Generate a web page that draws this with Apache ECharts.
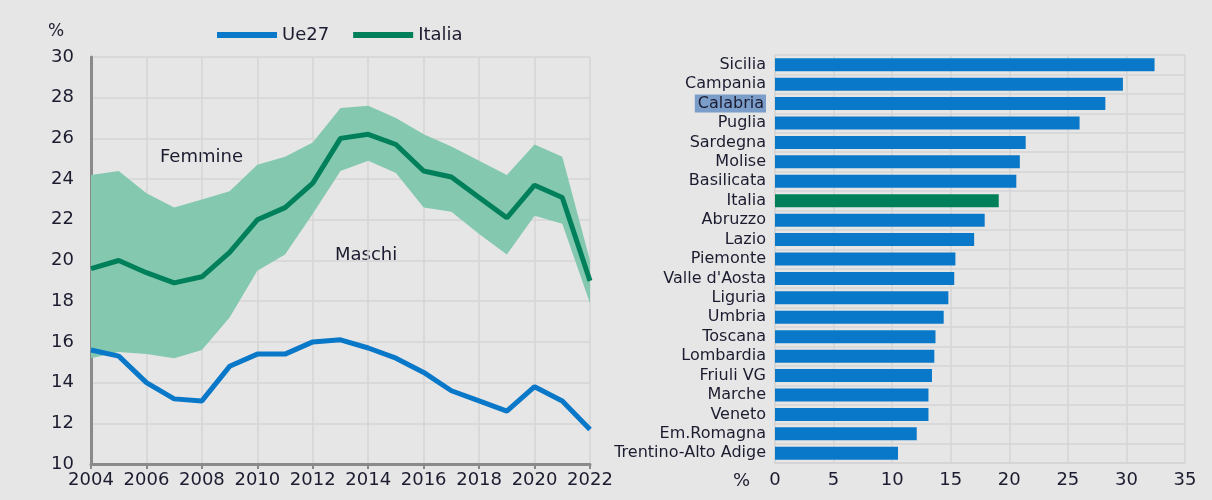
<!DOCTYPE html>
<html>
<head>
<meta charset="utf-8">
<script src="https://cdn.jsdelivr.net/npm/echarts@6/dist/echarts.min.js"></script>
<style>
  html, body { margin: 0; padding: 0; background: #e6e6e6; }
  #chart { width: 1212px; height: 500px; }
</style>
</head>
<body>
<div id="chart"></div>
<script>
// anni asse x (grafico a sinistra)
const years = ["2004", "2005", "2006", "2007", "2008", "2009", "2010", "2011", "2012", "2013",
  "2014", "2015", "2016", "2017", "2018", "2019", "2020", "2021", "2022"];
const ue27 = [15.6, 15.3, 14.0, 13.2, 13.1, 14.8, 15.4, 15.4, 16.0, 16.1,
  15.7, 15.2, 14.5, 13.6, 13.1, 12.6, 13.8, 13.1, 11.7];
const italia = [19.6, 20.0, 19.4, 18.9, 19.2, 20.4, 22.0, 22.6, 23.8, 26.0,
  26.2, 25.7, 24.4, 24.1, 23.1, 22.1, 23.7, 23.1, 19.0];
// banda: femmine (bordo superiore), maschi (bordo inferiore)
const femmine = [24.2, 24.4, 23.3, 22.6, 23.0, 23.4, 24.7, 25.1, 25.8, 27.5,
  27.6, 27.0, 26.2, 25.6, 24.9, 24.2, 25.7, 25.1, 20.0];
const maschi = [15.2, 15.5, 15.4, 15.2, 15.6, 17.2, 19.5, 20.3, 22.3, 24.4,
  24.9, 24.3, 22.6, 22.4, 21.3, 20.3, 22.2, 21.8, 17.9];

// regioni (grafico a destra)
const regioni = ["Sicilia", "Campania", "Calabria", "Puglia", "Sardegna", "Molise", "Basilicata",
  "Italia", "Abruzzo", "Lazio", "Piemonte", "Valle d'Aosta", "Liguria", "Umbria", "Toscana",
  "Lombardia", "Friuli VG", "Marche", "Veneto", "Em.Romagna", "Trentino-Alto Adige"];
const valoriRegioni = [32.4, 29.7, 28.2, 26.0, 21.4, 20.9, 20.6, 19.1, 17.9, 17.0, 15.4,
  15.3, 14.8, 14.4, 13.7, 13.6, 13.4, 13.1, 13.1, 12.1, 10.5];

const BLUE = "#0a78c8";
const GREEN = "#00805a";
const TXT = "#1c1c30";
const GRID = "#d4d4d4";
const FONT = "'DejaVu Sans', sans-serif";

const bandDiff = femmine.map((v, i) => +(v - maschi[i]).toFixed(2));

const chart = echarts.init(document.getElementById("chart"));
const option = {
  backgroundColor: "#e6e6e6",
  animation: false,
  textStyle: { fontFamily: FONT },
  legend: {
    data: ["Ue27", "Italia"],
    left: 212, top: 21,
    icon: "rect", itemWidth: 60, itemHeight: 6, itemGap: 24,
    textStyle: { fontSize: 18, color: TXT, fontFamily: FONT }
  },
  graphic: [
    { type: "text", left: 48, top: 23, style: { text: "%", font: "17px " + FONT, fill: TXT } },
    { type: "text", left: 160, top: 148, style: { text: "Femmine", font: "18px " + FONT, fill: TXT } },
    { type: "text", left: 335, top: 246, style: { text: "Maschi", font: "18px " + FONT, fill: TXT } },
    { type: "text", left: 733, top: 472, style: { text: "%", font: "18px " + FONT, fill: TXT } }
  ],
  grid: [
    { left: 91, right: 622, top: 57, height: 407 },
    { left: 775, right: 27, top: 55, height: 408 }
  ],
  xAxis: [
    {
      gridIndex: 0, type: "category", data: years, boundaryGap: false,
      axisLine: { lineStyle: { color: "#8a8a8a", width: 3 } },
      axisTick: { show: true, interval: 1, length: 5, lineStyle: { color: "#8a8a8a", width: 2 } },
      axisLabel: { interval: 1, fontSize: 18, color: TXT, margin: 7 },
      splitLine: { show: true, interval: 1, lineStyle: { color: GRID, width: 1.5 } }
    },
    {
      gridIndex: 1, type: "value", min: 0, max: 35, interval: 5,
      axisLine: { show: true, lineStyle: { color: GRID, width: 1.5 } },
      axisTick: { show: false },
      axisLabel: { fontSize: 18, color: TXT, margin: 8 },
      splitLine: { show: true, lineStyle: { color: GRID, width: 1.5 } }
    }
  ],
  yAxis: [
    {
      gridIndex: 0, type: "value", min: 10, max: 30, interval: 2,
      axisLine: { show: true, lineStyle: { color: "#8a8a8a", width: 3 } },
      axisTick: { show: false },
      axisLabel: { fontSize: 18, color: TXT, margin: 17 },
      splitLine: { show: true, lineStyle: { color: GRID, width: 1.5 } }
    },
    {
      gridIndex: 1, type: "category", data: regioni, inverse: true,
      axisLine: { show: true, lineStyle: { color: GRID, width: 1.5 } },
      axisTick: { show: false },
      axisLabel: {
        interval: 0, fontSize: 16, color: TXT, margin: 9,
        formatter: v => v === "Calabria" ? "{hl|" + v + "}" : v,
        rich: { hl: { backgroundColor: "#7b9dca", fontSize: 16, color: TXT, padding: [1, 2, 1, 3] } }
      },
      splitLine: { show: true, interval: 0, lineStyle: { color: GRID, width: 1.5 } }
    }
  ],
  series: [
    {
      name: "maschi", type: "line", xAxisIndex: 0, yAxisIndex: 0, stack: "banda",
      data: maschi, symbol: "none", lineStyle: { opacity: 0 }, silent: true
    },
    {
      name: "banda", type: "line", xAxisIndex: 0, yAxisIndex: 0, stack: "banda",
      data: bandDiff, symbol: "none", lineStyle: { opacity: 0 }, silent: true,
      areaStyle: { color: "#84c8af", opacity: 1 }
    },
    {
      name: "Italia", type: "line", xAxisIndex: 0, yAxisIndex: 0, data: italia,
      symbol: "none", color: GREEN, lineStyle: { width: 5, color: GREEN }
    },
    {
      name: "Ue27", type: "line", xAxisIndex: 0, yAxisIndex: 0, data: ue27,
      symbol: "none", color: BLUE, lineStyle: { width: 5, color: BLUE }
    },
    {
      name: "regioni", type: "bar", xAxisIndex: 1, yAxisIndex: 1, barWidth: 13,
      data: valoriRegioni.map((v, i) => ({
        value: v,
        itemStyle: { color: regioni[i] === "Italia" ? GREEN : BLUE }
      }))
    }
  ]
};
chart.setOption(option);
</script>
</body>
</html>
